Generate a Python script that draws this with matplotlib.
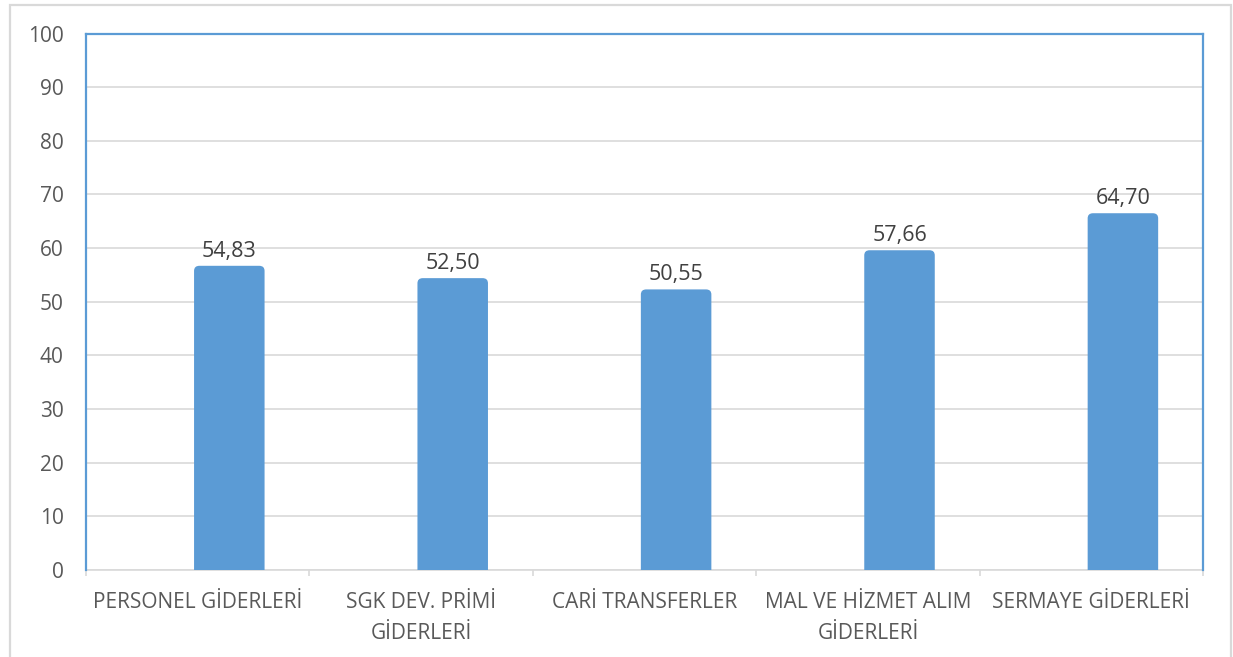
import matplotlib
matplotlib.use("Agg")
import matplotlib.pyplot as plt
from matplotlib.path import Path
from matplotlib.patches import PathPatch, Rectangle
import numpy as np

plt.rcParams['font.family'] = ['Open Sans', 'DejaVu Sans']

categories = ["PERSONEL GİDERLERİ", "SGK DEV. PRİMİ\nGİDERLERİ", "CARİ TRANSFERLER",
              "MAL VE HİZMET ALIM\nGİDERLERİ", "SERMAYE GİDERLERİ"]
values = [54.83, 52.50, 50.55, 57.66, 64.70]          # data labels
bar_heights = [56.7, 54.4, 52.3, 59.6, 66.5]         # bar tops as drawn in the picture
value_labels = ["54,83", "52,50", "50,55", "57,66", "64,70"]
yticks = [0, 10, 20, 30, 40, 50, 60, 70, 80, 90, 100]

BLUE = "#5B9BD5"
GRID = "#D9D9D9"
TXT = "#595959"
FS = 15

fig = plt.figure(figsize=(12.33, 6.57), dpi=100)
ax = fig.add_axes([86/1233, 1-570/657, (1203-86)/1233, (570-33.5)/657])

x = np.arange(len(categories))
offset = 0.1415
width = 0.3156
bars = ax.bar(x + offset, bar_heights, width=width, color=BLUE, zorder=3)

# rounded top corners
rx = 0.024
ry = 0.95
for rect in bars:
    x0, y0 = rect.get_x(), rect.get_y()
    w, h = rect.get_width(), rect.get_height()
    verts = [(x0, y0), (x0, y0 + h - ry), (x0, y0 + h), (x0 + rx, y0 + h),
             (x0 + w - rx, y0 + h), (x0 + w, y0 + h), (x0 + w, y0 + h - ry),
             (x0 + w, y0), (x0, y0)]
    codes = [Path.MOVETO, Path.LINETO, Path.CURVE3, Path.CURVE3,
             Path.LINETO, Path.CURVE3, Path.CURVE3, Path.LINETO, Path.CLOSEPOLY]
    ax.add_patch(PathPatch(Path(verts, codes), facecolor=BLUE, edgecolor='none', zorder=3))
    rect.set_visible(False)

for rect, lab in zip(bars, value_labels):
    ax.annotate(lab, (rect.get_x() + rect.get_width()/2, rect.get_height()),
                xytext=(0, 3), textcoords='offset points', ha='center', va='bottom',
                fontsize=FS + 0.5, color="#404040", zorder=4)

ax.set_xlim(-0.5, len(categories) - 0.5)
ax.set_ylim(0, 100)
ax.set_yticks(yticks)
ax.set_yticklabels([str(t) for t in yticks])
ax.tick_params(axis='y', length=0, pad=16, labelsize=FS, labelcolor=TXT)
ax.set_xticks(x)
ax.set_xticklabels(categories, linespacing=1.6)
ax.tick_params(axis='x', which='major', length=0, pad=16, labelsize=FS, labelcolor=TXT)
ax.set_xticks(np.arange(-0.5, len(categories)), minor=True)
ax.tick_params(axis='x', which='minor', length=4, width=1.2, color=GRID, direction='out')

ax.yaxis.grid(True, color=GRID, linewidth=1.2, zorder=0)
ax.set_axisbelow(True)

for s in ['left', 'top', 'right']:
    ax.spines[s].set_color(BLUE)
    ax.spines[s].set_linewidth(1.6)
    ax.spines[s].set_zorder(5)
ax.spines['bottom'].set_color(GRID)
ax.spines['bottom'].set_linewidth(1.2)

# outer chart border
fig.patches.append(Rectangle((10/1233, -0.02), (1231-10)/1233, 1 - 5/657 + 0.02,
                             transform=fig.transFigure, fill=False,
                             edgecolor=GRID, linewidth=1.6, zorder=0))

fig.savefig("out.png", dpi=100, facecolor='white')
